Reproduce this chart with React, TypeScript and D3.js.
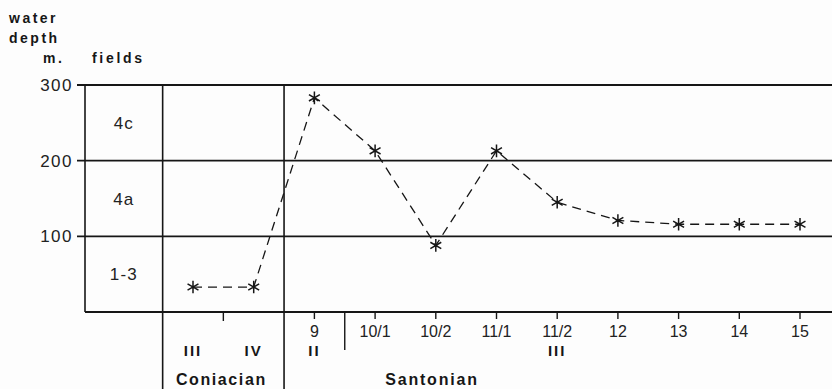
import React from "react";
import * as d3 from "d3";

const categories = ["III", "IV", "9", "10/1", "10/2", "11/1", "11/2", "12", "13", "14", "15"];
const depthValues = [33, 33, 283, 213, 88, 213, 145, 121, 116, 116, 116];
const yTicks = [300, 200, 100];
const fieldLabels = [
  { label: "4c", lo: 200, hi: 300 },
  { label: "4a", lo: 100, hi: 200 },
  { label: "1-3", lo: 0, hi: 100 },
];
const numberedLabels = ["9", "10/1", "10/2", "11/1", "11/2", "12", "13", "14", "15"];
const romanLabels = [
  { label: "III", at: "III" },
  { label: "IV", at: "IV" },
  { label: "II", at: "9" },
  { label: "III", at: "11/2" },
];

const W = 832;
const H = 389;

export default function App() {
  const x = d3.scalePoint<string>().domain(categories).range([193, 800]);
  const step = x.step();
  const y = d3.scaleLinear().domain([0, 300]).range([312, 85]);

  const line = d3
    .line<number>()
    .x((_, i) => x(categories[i]) as number)
    .y((d) => y(d))
    .curve(d3.curveLinear);

  const px = (c: string) => x(c) as number;
  const fieldsLeft = 85;
  const fieldsRight = px("III") - step / 2;
  const stageBoundary = (px("IV") + px("9")) / 2;
  const subBoundary = (px("9") + px("10/1")) / 2;
  const coniacTick = (px("III") + px("IV")) / 2;

  const star = (cx: number, cy: number, r = 6.3) => {
    const parts: string[] = [];
    for (let k = 0; k < 3; k++) {
      const a = (Math.PI / 2) + (k * Math.PI) / 3;
      const dx = r * Math.cos(a);
      const dy = r * Math.sin(a);
      parts.push(`M${cx - dx},${cy - dy}L${cx + dx},${cy + dy}`);
    }
    return parts.join("");
  };

  const ink = "#161616";
  const sans = "'Liberation Sans', Arial, Helvetica, sans-serif";
  const boldStyle = { fontFamily: sans, fontWeight: 700, fill: ink } as const;
  const regStyle = { fontFamily: sans, fontWeight: 400, fill: "#222" } as const;

  return (
    <svg
      width={W}
      height={H}
      style={{ position: "absolute", left: 0, top: 0, background: "#fdfdfd" }}
    >
      {/* header */}
      <text x={9} y={23} fontSize={14} letterSpacing={2.5} style={boldStyle}>water</text>
      <text x={9} y={43} fontSize={14} letterSpacing={2.5} style={boldStyle}>depth</text>
      <text x={43} y={63} fontSize={14} letterSpacing={2.5} style={boldStyle}>m.</text>
      <text x={92} y={63} fontSize={14} letterSpacing={2.7} style={boldStyle}>fields</text>

      {/* horizontal grid lines */}
      {yTicks.map((t) => (
        <line key={t} x1={77} x2={W} y1={y(t)} y2={y(t)} stroke={ink} strokeWidth={1.8} />
      ))}
      <line x1={fieldsLeft} x2={W} y1={y(0)} y2={y(0)} stroke={ink} strokeWidth={1.8} />

      {/* y labels */}
      {yTicks.map((t) => (
        <text
          key={t}
          x={73}
          y={y(t)}
          dy="0.36em"
          textAnchor="end"
          fontSize={17}
          letterSpacing={1.5}
          style={regStyle}
        >
          {t}
        </text>
      ))}

      {/* vertical lines */}
      <line x1={fieldsLeft} x2={fieldsLeft} y1={y(300)} y2={y(0)} stroke={ink} strokeWidth={1.6} />
      <line x1={fieldsRight} x2={fieldsRight} y1={y(300)} y2={H} stroke={ink} strokeWidth={1.6} />
      <line x1={stageBoundary} x2={stageBoundary} y1={y(300)} y2={H} stroke={ink} strokeWidth={1.6} />
      <line x1={subBoundary} x2={subBoundary} y1={y(0)} y2={350} stroke={ink} strokeWidth={1.4} />
      <line x1={coniacTick} x2={coniacTick} y1={y(0)} y2={321} stroke={ink} strokeWidth={1.4} />

      {/* field labels */}
      {fieldLabels.map((f) => (
        <text
          key={f.label}
          x={(fieldsLeft + fieldsRight) / 2}
          y={(y(f.lo) + y(f.hi)) / 2}
          dy="0.36em"
          textAnchor="middle"
          fontSize={17}
          letterSpacing={1.2}
          style={regStyle}
        >
          {f.label}
        </text>
      ))}

      {/* numbered ticks */}
      {numberedLabels.map((c) => (
        <g key={c}>
          <line x1={px(c)} x2={px(c)} y1={y(0)} y2={319} stroke={ink} strokeWidth={1.4} />
          <text
            x={px(c)}
            y={331}
            dy="0.36em"
            textAnchor="middle"
            fontSize={16}
            style={regStyle}
          >
            {c}
          </text>
        </g>
      ))}

      {/* roman numerals */}
      {romanLabels.map((r, i) => (
        <text
          key={i}
          x={px(r.at)}
          y={351}
          dy="0.36em"
          textAnchor="middle"
          fontSize={15}
          letterSpacing={2}
          style={boldStyle}
        >
          {r.label}
        </text>
      ))}

      {/* stage names */}
      <text
        x={(fieldsRight + stageBoundary) / 2 - 2}
        y={379}
        dy="0.36em"
        textAnchor="middle"
        fontSize={16}
        letterSpacing={1.6}
        style={boldStyle}
      >
        Coniacian
      </text>
      <text
        x={432}
        y={379}
        dy="0.36em"
        textAnchor="middle"
        fontSize={16}
        letterSpacing={1.8}
        style={boldStyle}
      >
        Santonian
      </text>

      {/* dashed depth curve */}
      <path
        d={line(depthValues) ?? ""}
        fill="none"
        stroke={ink}
        strokeWidth={1.3}
        strokeDasharray="9,6"
      />
      {depthValues.map((v, i) => (
        <path
          key={i}
          d={star(px(categories[i]), y(v))}
          stroke={ink}
          strokeWidth={1.5}
          fill="none"
        />
      ))}
    </svg>
  );
}
